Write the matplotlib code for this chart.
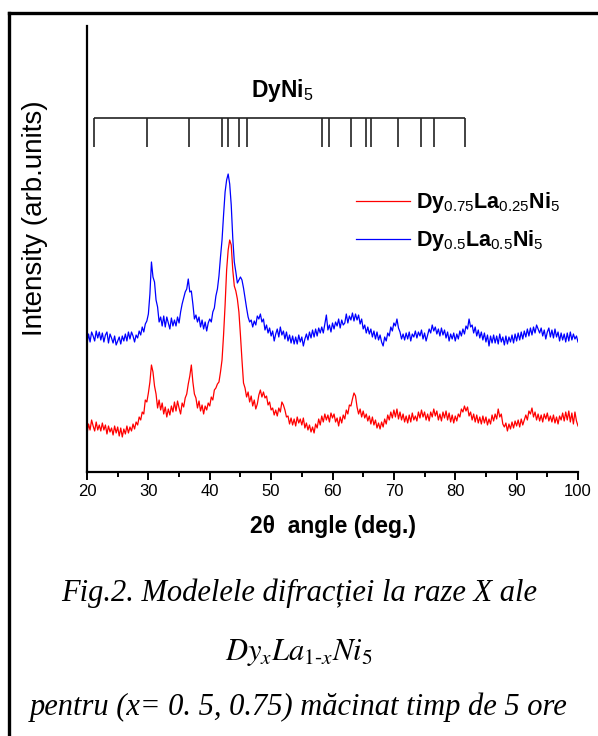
import matplotlib
matplotlib.use("Agg")
import matplotlib.pyplot as plt
import numpy as np
from matplotlib.lines import Line2D

plt.rcParams["font.family"] = ["Liberation Sans", "DejaVu Sans"]
plt.rcParams["mathtext.fontset"] = "custom"
plt.rcParams["mathtext.rm"] = "Liberation Sans"
plt.rcParams["mathtext.bf"] = "Liberation Sans:bold"
plt.rcParams["mathtext.it"] = "Liberation Sans:italic"

# XRD scans, 0.25 deg step from 20 to 100 deg (arb. units)
dy050 = [
    128, 138, 130, 140, 136, 131, 141, 134, 140,
    132, 139, 130, 137, 140, 129, 138, 134,
    129, 136, 127, 131, 135, 128, 136, 131,
    138, 131, 140, 133, 140, 136, 130, 137,
    134, 141, 137, 145, 140, 148, 151, 158,
    178, 210, 195, 190, 172, 165, 150, 155,
    146, 156, 145, 155, 149, 143, 154, 146,
    152, 146, 155, 149, 160, 168, 174, 180,
    183, 193, 180, 181, 168, 153, 157, 150,
    155, 145, 152, 143, 150, 141, 149, 153,
    150, 160, 164, 176, 183, 196, 215, 232,
    257, 280, 292, 298, 288, 267, 234, 210,
    200, 189, 192, 195, 192, 184, 174, 164,
    155, 150, 152, 145, 151, 147, 156, 153,
    158, 150, 153, 142, 147, 139, 144, 136,
    141, 131, 138, 143, 135, 145, 137, 141,
    133, 140, 131, 137, 129, 136, 128, 135,
    128, 137, 130, 135, 126, 133, 138, 132,
    140, 134, 142, 135, 143, 136, 144, 139,
    145, 139, 148, 157, 142, 147, 140, 149,
    143, 150, 146, 153, 144, 152, 147, 149,
    158, 149, 156, 152, 159, 151, 158, 152,
    157, 148, 153, 143, 147, 139, 145, 138,
    143, 135, 141, 133, 140, 132, 137, 130,
    126, 135, 131, 139, 136, 145, 141, 149,
    146, 153, 144, 140, 133, 138, 132, 139,
    133, 140, 131, 138, 135, 141, 134, 140,
    136, 142, 133, 139, 131, 137, 143, 139,
    147, 141, 145, 138, 143, 136, 144, 137,
    142, 134, 140, 131, 138, 133, 139, 131,
    138, 133, 141, 136, 143, 138, 146, 143,
    153, 145, 147, 139, 145, 136, 142, 134,
    140, 132, 139, 130, 137, 126, 136, 129,
    137, 129, 136, 128, 138, 130, 135, 127,
    136, 128, 135, 130, 137, 129, 138, 131,
    139, 132, 140, 133, 141, 135, 143, 136,
    144, 137, 145, 139, 147, 143, 139, 144,
    136, 142, 133, 140, 144, 135, 142, 134,
    143, 135, 140, 131, 139, 132, 138, 130,
    139, 131, 140, 132, 138, 133, 136, 130,
]

dy075 = [
    38, 48, 42, 52, 46, 41, 50, 42, 47,
    41, 49, 42, 47, 38, 46, 40, 44,
    37, 46, 39, 45, 36, 44, 35, 43,
    38, 46, 39, 45, 41, 48, 43, 50,
    47, 55, 52, 60, 58, 72, 70, 79,
    90, 107, 100, 86, 78, 64, 72, 62,
    69, 58, 65, 55, 63, 57, 66, 60,
    70, 61, 71, 64, 58, 69, 65, 74,
    78, 88, 96, 107, 90, 78, 74, 64,
    71, 61, 67, 58, 66, 62, 69, 66,
    75, 72, 82, 84, 88, 90, 100, 112,
    137, 167, 202, 222, 232, 227, 202, 186,
    181, 173, 160, 137, 112, 89, 84, 75,
    80, 70, 76, 66, 72, 63, 68, 77,
    82, 75, 80, 74, 76, 67, 70, 62,
    64, 57, 62, 56, 64, 60, 70, 67,
    62, 55, 56, 48, 54, 47, 53, 46,
    55, 49, 53, 47, 54, 44, 49, 42,
    47, 40, 45, 39, 48, 44, 53, 47,
    56, 50, 58, 52, 57, 50, 59, 54,
    58, 50, 54, 46, 55, 49, 57, 53,
    62, 58, 67, 66, 73, 79, 76, 65,
    58, 63, 55, 61, 54, 58, 51, 56,
    48, 55, 47, 52, 44, 49, 43, 50,
    45, 53, 48, 57, 52, 60, 54, 62,
    55, 63, 53, 60, 52, 58, 50, 56,
    49, 57, 50, 59, 52, 56, 51, 60,
    54, 62, 55, 60, 52, 58, 51, 60,
    55, 63, 56, 61, 52, 58, 51, 60,
    54, 61, 52, 59, 50, 57, 49, 56,
    51, 58, 55, 63, 60, 66, 61, 65,
    56, 60, 52, 58, 50, 57, 49, 55,
    48, 56, 49, 55, 47, 53, 48, 57,
    51, 58, 53, 63, 55, 58, 48, 45,
    49, 41, 48, 43, 50, 44, 51, 46,
    52, 45, 53, 47, 52, 57, 52, 61,
    58, 64, 55, 60, 52, 58, 51, 57,
    50, 58, 53, 59, 51, 56, 50, 57,
    49, 55, 48, 56, 52, 59, 51, 60,
    52, 61, 50, 59, 48, 60, 51, 46,
]

# DyNi5 reference reflections (2 theta, deg)
dyni5_peaks = [21.2, 29.8, 36.7, 42.0, 42.9, 44.8, 46.1, 58.3, 59.4, 63.0,
               65.5, 66.3, 70.6, 74.4, 76.5, 81.6]

labels = [r"$\mathbf{Dy}_{0.75}\mathbf{La}_{0.25}\mathbf{Ni}_{5}$",
          r"$\mathbf{Dy}_{0.5}\mathbf{La}_{0.5}\mathbf{Ni}_{5}$"]

W, H = 598, 736
fig = plt.figure(figsize=(W / 100, H / 100), dpi=100)
ax = fig.add_axes([87 / W, 1 - 472 / H, (578 - 87) / W, (472 - 26) / H])

tt_a = np.linspace(20, 100, len(dy075))
tt_b = np.linspace(20, 100, len(dy050))
ax.plot(tt_a, dy075, color="#ff0000", lw=0.9, label=labels[0])
ax.plot(tt_b, dy050, color="#0000ff", lw=0.9, label=labels[1])

# stick pattern
ax.vlines(dyni5_peaks, 325, 354, color="#222222", lw=1.2)
ax.hlines(354, dyni5_peaks[0], dyni5_peaks[-1], color="#222222", lw=1.2)
ax.text(51.8, 368, r"$\mathbf{DyNi}_{5}$", fontsize=16.5, ha="center", va="bottom")

ax.set_xlim(20, 100)
ax.set_ylim(0, 446)
ax.set_xticks(np.arange(20, 101, 10))
ax.set_xticks(np.arange(25, 100, 10), minor=True)
ax.set_yticks([])
for s in ["top", "right"]:
    ax.spines[s].set_visible(False)
ax.spines["left"].set_linewidth(1.6)
ax.spines["bottom"].set_linewidth(1.6)
ax.tick_params(axis="x", which="major", direction="out", length=6, width=1.4,
               labelsize=12, pad=3)
ax.tick_params(axis="x", which="minor", direction="out", length=3.5, width=1.4)

ax.legend(loc="upper left", bbox_to_anchor=(0.53, 0.651), frameon=False,
          fontsize=15.5, handlelength=2.5, handletextpad=0.3, labelspacing=0.6,
          borderaxespad=0)

fig.text(35 / W, 1 - 218 / H, "Intensity (arb.units)", rotation=90,
         fontsize=20, ha="center", va="center")
fig.text(333 / W, 1 - 527 / H, "2θ  angle (deg.)", fontsize=16.5,
         fontweight="bold", ha="center", va="center")

serif = ["Liberation Serif", "DejaVu Serif"]
fig.text(299 / W, 1 - 593 / H, "Fig.2. Modelele difracției la raze X ale",
         family=serif, style="italic", fontsize=22, ha="center", va="center")
fig.text(299 / W, 1 - 652 / H, r"$\mathit{Dy_{x}La_{1\text{-}x}Ni_{5}}$",
         math_fontfamily="stix", fontsize=22, ha="center", va="center")
fig.text(299 / W, 1 - 707 / H, "pentru (x= 0. 5, 0.75) măcinat timp de 5 ore",
         family=serif, style="italic", fontsize=22, ha="center", va="center")

# outer frame
fig.add_artist(Line2D([9 / W, 9 / W], [0, 1 - 13 / H], color="black", lw=2.4))
fig.add_artist(Line2D([9 / W, 1], [1 - 13 / H, 1 - 13 / H], color="black", lw=2.4))

fig.savefig("out.png", dpi=100)
